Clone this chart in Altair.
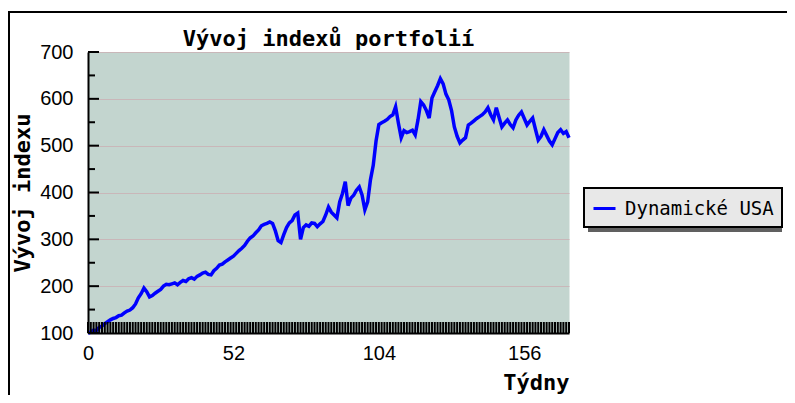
import altair as alt
import pandas as pd

# ---- data ----
weeks = list(range(173))
values = [
    100, 102, 106, 105, 112, 115, 120, 124, 128, 131,
    133, 137, 138, 143, 147, 149, 154, 162, 175, 184,
    196, 188, 177, 180, 185, 189, 193, 200, 204, 203,
    205, 207, 203, 208, 212, 210, 216, 218, 215, 221,
    224, 228, 230, 225, 224, 233, 238, 245, 247, 252,
    256, 260, 264, 270, 276, 281, 287, 296, 303, 307,
    314, 320, 329, 332, 334, 337, 334, 318, 297, 293,
    310, 325, 335, 340, 352, 356, 300, 325, 331, 328,
    335, 334, 327, 333, 338, 352, 369, 358, 352, 346,
    380, 398, 423, 372, 388, 394, 405, 412, 395, 363,
    380, 427, 458, 510, 545, 549, 552, 556, 562, 566,
    583, 548, 517, 532, 528, 530, 533, 523, 555, 594,
    587, 575, 559, 602, 615, 628, 643, 632, 610, 598,
    575, 540, 520, 506, 512, 517, 544, 548, 553, 558,
    562, 566, 572, 581, 566, 555, 581, 560, 540, 548,
    555, 545, 538, 555, 565, 572, 558, 544, 552, 559,
    535, 512, 520, 534, 522, 510, 502, 515, 528, 534,
    526, 530, 517,
]
series_name = "Dynamické USA"
x_label_values = [0, 52, 104, 156]
y_label_values = [100, 200, 300, 400, 500, 600, 700]
y_minor_values = [150, 250, 350, 450, 550, 650]
x_tick_weeks = list(range(0, 173))

title_text = "Vývoj indexů portfolií"
x_title = "Týdny"
y_title = "Vývoj indexu"

W, H = 481, 281
BG = "#c3d5cf"
GRID = "#c9b7b9"
MONO = "DejaVu Sans Mono"
SANS = "Liberation Sans"

line_df = pd.DataFrame({"week": weeks, "value": values, "series": series_name})
ymaj_df = pd.DataFrame({"value": y_label_values})
ymin_df = pd.DataFrame({"value": y_minor_values})
xt_df = pd.DataFrame({"week": x_tick_weeks})
one = pd.DataFrame({"k": [0]})

xscale = alt.Scale(domain=[0, 172], nice=False, zero=False)
yscale = alt.Scale(domain=[100, 700], nice=False, zero=False)

xaxis = alt.Axis(
    values=x_label_values, title=x_title, ticks=False, tickSize=0, grid=False,
    domainColor="black", domainWidth=2,
    labelFont=SANS, labelFontSize=20, labelColor="black", labelPadding=10,
    labelFlush=False,
    titleFont=MONO, titleFontSize=22, titleFontWeight="bold", titleColor="black",
    titleAnchor="end", titleAlign="right", titleBaseline="alphabetic",
    titleX=W, titleY=56)
yaxis = alt.Axis(
    values=y_label_values, title=y_title, ticks=False, tickSize=0,
    grid=True, gridColor=GRID, gridWidth=1,
    domainColor="black", domainWidth=2,
    labelFont=SANS, labelFontSize=20, labelColor="black", labelPadding=15,
    labelFlush=False,
    titleFont=MONO, titleFontSize=22, titleFontWeight="bold", titleColor="black",
    titleAngle=270, titleAlign="center", titleBaseline="middle",
    titleX=-66, titleY=H / 2)

line = alt.Chart(line_df).mark_line(strokeWidth=3.5, clip=False).encode(
    x=alt.X("week:Q", scale=xscale, axis=xaxis),
    y=alt.Y("value:Q", scale=yscale, axis=yaxis),
    color=alt.Color("series:N",
                    scale=alt.Scale(domain=[series_name], range=["#0000ff"]),
                    legend=alt.Legend(
                        title=None, orient="none", legendX=496, legendY=136,
                        fillColor="#e8e8e8", strokeColor="black",
                        padding=8, cornerRadius=0,
                        symbolType="stroke", symbolStrokeWidth=3, symbolSize=484,
                        labelFont=MONO, labelFontSize=19, labelColor="black",
                        labelOffset=8, labelLimit=400)),
)

ymaj = alt.Chart(ymaj_df).mark_rule(color="black", strokeWidth=2).encode(
    y=alt.Y("value:Q", scale=yscale, axis=yaxis),
    x=alt.value(0), x2=alt.value(11))
ymin = alt.Chart(ymin_df).mark_rule(color="black", strokeWidth=2).encode(
    y=alt.Y("value:Q", scale=yscale, axis=yaxis),
    x=alt.value(0), x2=alt.value(7))
xt = alt.Chart(xt_df).mark_rule(color="black", strokeWidth=2).encode(
    x=alt.X("week:Q", scale=xscale, axis=xaxis),
    y=alt.value(H), y2=alt.value(H - 11))

frame_top = alt.Chart(one).mark_rule(color="black", strokeWidth=2, clip=False).encode(
    x=alt.value(-82), x2=alt.value(720), y=alt.value(-40))
frame_left = alt.Chart(one).mark_rule(color="black", strokeWidth=2, clip=False).encode(
    x=alt.value(-79), y=alt.value(-40), y2=alt.value(360))
shadow = alt.Chart(one).mark_rect(color="#606060", clip=False).encode(
    x=alt.value(500), x2=alt.value(694), y=alt.value(142), y2=alt.value(180))

chart = alt.layer(line, xt, ymin, ymaj, frame_top, frame_left, shadow).properties(
    width=W, height=H,
    padding={"left": 80, "top": 44, "right": 218, "bottom": 62},
    autosize=alt.AutoSizeParams(type="none"),
    background="white",
    title=alt.TitleParams(title_text, font=MONO, fontSize=22, fontWeight="bold",
                          color="black", anchor="middle", frame="group",
                          baseline="alphabetic", offset=-57),
).configure_view(fill=BG, stroke="transparent").configure_legend(strokeWidth=2)

chart.save("out.html", embed_options={"renderer": "svg", "actions": False})
